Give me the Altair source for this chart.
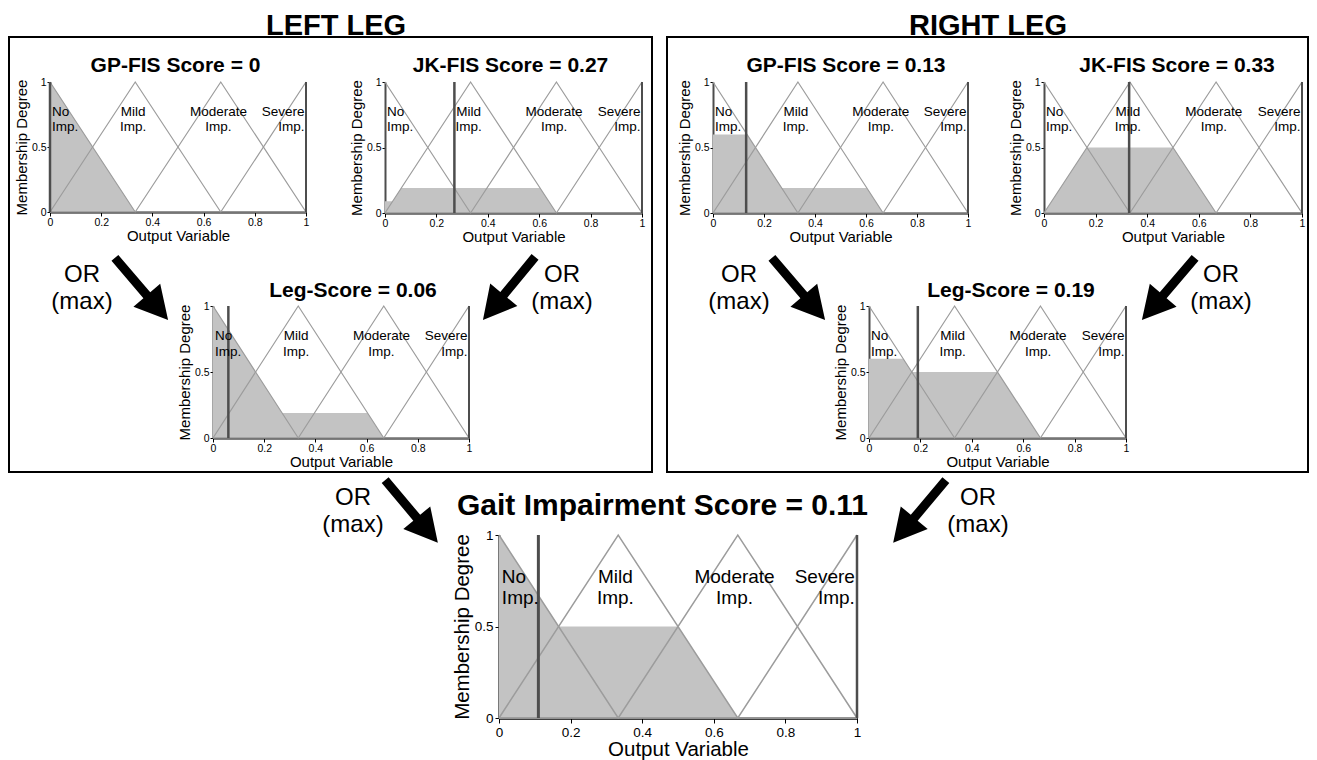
import math
import altair as alt
import pandas as pd

# ------------------------------------------------------------------ data
MF_NAMES = ["No Imp.", "Mild Imp.", "Moderate Imp.", "Severe Imp."]
MF_X = [[0, 0.333, 1], [0, 0.333, 0.667, 1], [0, 0.333, 0.667, 1], [0, 0.667, 1]]
MF_Y = [[1, 0, 0], [0, 1, 0, 0], [0, 0, 1, 0], [0, 0, 1]]
MF_LABELS = ["No\nImp.", "Mild\nImp.", "Moderate\nImp.", "Severe\nImp."]

PANEL_TITLES = ["GP-FIS Score = 0", "JK-FIS Score = 0.27", "Leg-Score = 0.06",
                "GP-FIS Score = 0.13", "JK-FIS Score = 0.33", "Leg-Score = 0.19",
                "Gait Impairment Score = 0.11"]
SCORES = [0, 0.27, 0.06, 0.13, 0.33, 0.19, 0.11]

# vertices of the shaded (aggregated) output region
FILL_X = [
    [0, 0.333],
    [0, 0.03, 0.063, 0.603, 0.667],
    [0, 0.27, 0.603, 0.667],
    [0, 0.133, 0.27, 0.603, 0.667],
    [0, 0.167, 0.5, 0.667],
    [0, 0.133, 0.167, 0.5, 0.667],
    [0, 0.167, 0.5, 0.667],
]
FILL_Y = [
    [1, 0],
    [0.09, 0.09, 0.19, 0.19, 0],
    [1, 0.19, 0.19, 0],
    [0.6, 0.6, 0.19, 0.19, 0],
    [0, 0.5, 0.5, 0],
    [0.6, 0.6, 0.5, 0.5, 0],
    [1, 0.5, 0.5, 0],
]
X_TICKS = [0, 0.2, 0.4, 0.6, 0.8, 1]
Y_TICKS = [0, 0.5, 1]
X_TITLE = "Output Variable"
Y_TITLE = "Membership Degree"
GROUP_TITLES = ["LEFT LEG", "RIGHT LEG"]
OR_TEXT = "OR\n(max)"

# ------------------------------------------------------------------ layout (page pixels)
W, H = 1301, 752
M = 8
PANEL_BOX = [  # x(0), x(1), y(1), y(0)
    (50, 306, 82, 212),
    (385, 642, 82, 213),
    (213, 469, 306, 438),
    (713, 968, 82, 213),
    (1044, 1302, 82, 213),
    (869, 1126, 306, 438),
    (499, 857, 535, 718),
]
TITLE_POS = [(175.5, 72), (510.5, 72), (353, 297), (846, 72), (1177, 72), (1011, 297), (662.5, 515)]
LABEL_X = [0.008, 0.325, 0.658, 0.994]
LABEL_ALIGN = ["left", "center", "center", "right"]
LABEL_Y1 = 0.74

SMALL = dict(title=21, label=13.5, lh=15.2, tickfs=10.5, axfs=15, tick=4, lpad=1,
             dom=2, mfw=1.2, scorew=2.5)
BIG = dict(title=30, label=19, lh=21.4, tickfs=13.5, axfs=20.5, tick=5, lpad=2,
           dom=2.5, mfw=1.5, scorew=3)

FILL = "#c3c3c3"
LINE = "#9c9c9c"
DARK = "#4d4d4d"

BOXES = [(9, 652, 37, 472), (667, 1308, 37, 472)]
GROUP_TITLE_POS = [(336, 34.5), (988, 34.5)]
OR_POS = [(82, 282), (562, 282), (739, 282), (1221, 282), (353, 505), (978, 505)]
ARROWS = [((115, 258), (168, 320)), ((535, 257), (483, 320)),
          ((772, 258), (825, 320)), ((1195, 258), (1142, 320)),
          ((385, 480), (438, 543)), ((946, 480), (893, 543))]
ARROW_PATH = "M0,-1L0.43,-0.2L0.11,-0.2L0.11,1L-0.11,1L-0.11,-0.2L-0.43,-0.2Z"

mf_rows = []
for name, xs_, ys_ in zip(MF_NAMES, MF_X, MF_Y):
    for k, (a, b) in enumerate(zip(xs_, ys_)):
        mf_rows.append({"mf": name, "mx": a, "my": b, "k": k})
mf_df = pd.DataFrame(mf_rows)


def panel(i):
    x0, x1, yt, yb = PANEL_BOX[i]
    s = BIG if i == 6 else SMALL
    xs = alt.Scale(domain=[0, 1], range=[x0 - M, x1 - M], nice=False, zero=False)
    ys = alt.Scale(domain=[0, 1], range=[yb - M, yt - M], nice=False, zero=False)
    xa = alt.Axis(orient="bottom", offset=(yb - M) - H, values=X_TICKS, format="~g",
                  title=X_TITLE, grid=False, labelFlush=False, labelOverlap=False,
                  domainColor="black", domainWidth=s["dom"], tickColor="black", tickWidth=1,
                  tickSize=s["tick"], labelPadding=s["lpad"], labelFontSize=s["tickfs"],
                  labelColor="black", titleColor="black", titleFontSize=s["axfs"],
                  titleFontWeight="normal", titlePadding=1)
    ya = alt.Axis(orient="left", offset=-(x0 - M), values=Y_TICKS, format="~g",
                  title=Y_TITLE, grid=False, labelFlush=False, labelOverlap=False,
                  domainColor=DARK, domainWidth=s["dom"], tickColor="black", tickWidth=1,
                  tickSize=s["tick"] - 1, labelPadding=s["lpad"], labelFontSize=s["tickfs"],
                  labelColor="black", titleColor="black", titleFontSize=s["axfs"],
                  titleFontWeight="normal", titlePadding=1.5)

    def X(f):
        return alt.X(f, scale=xs, axis=xa)

    def Y(f):
        return alt.Y(f, scale=ys, axis=ya)

    fill_df = pd.DataFrame({"fx": FILL_X[i], "fy": FILL_Y[i], "base": [0] * len(FILL_X[i])})
    area = alt.Chart(fill_df).mark_area(color=FILL, opacity=1).encode(
        x=X("fx:Q"), y=Y("fy:Q"), y2="base:Q")
    lines = alt.Chart(mf_df).mark_line(color=LINE, strokeWidth=s["mfw"]).encode(
        x=X("mx:Q"), y=Y("my:Q"), detail="mf:N", order="k:Q")
    score_df = pd.DataFrame({"rx": [SCORES[i]], "r0": [0], "r1": [1]})
    score = alt.Chart(score_df).mark_rule(color=DARK, strokeWidth=s["scorew"]).encode(
        x=X("rx:Q"), y=Y("r0:Q"), y2="r1:Q")
    edge_df = pd.DataFrame({"rx": [1], "r0": [0], "r1": [1]})
    edge = alt.Chart(edge_df).mark_rule(color=DARK, strokeWidth=s["dom"]).encode(
        x=X("rx:Q"), y=Y("r0:Q"), y2="r1:Q")
    lab_df = pd.DataFrame({"lx": LABEL_X, "ly": [LABEL_Y1] * 4,
                           "txt": MF_LABELS, "al": LABEL_ALIGN})
    labs = []
    for al in ["left", "center", "right"]:
        sub = lab_df[lab_df["al"] == al]
        labs.append(alt.Chart(sub).mark_text(align=al, baseline="alphabetic", lineBreak="\n",
                                             lineHeight=s["lh"], fontSize=s["label"],
                                             color="black").encode(
            x=X("lx:Q"), y=Y("ly:Q"), text="txt:N"))
    tx, ty = TITLE_POS[i]
    tdf = pd.DataFrame({"t": [PANEL_TITLES[i]]})
    title = alt.Chart(tdf).mark_text(fontSize=s["title"], fontWeight="bold", align="center",
                                     baseline="alphabetic", color="black").encode(
        x=alt.value(tx - M), y=alt.value(ty - M), text="t:N")
    return alt.layer(area, lines, score, edge, *labs, title)


panels = [panel(i) for i in range(7)]

# ------------------------------------------------------------------ decorations
box_df = pd.DataFrame({"bx": [b[0] - M for b in BOXES], "bx2": [b[1] - M for b in BOXES],
                       "by": [b[2] - M for b in BOXES], "by2": [b[3] - M for b in BOXES]})
boxes = alt.Chart(box_df).mark_rect(filled=False, stroke="black", strokeWidth=2).encode(
    x=alt.X("bx:Q", scale=None, axis=None), x2="bx2:Q",
    y=alt.Y("by:Q", scale=None, axis=None), y2="by2:Q")

gt_df = pd.DataFrame({"gx": [p[0] - M for p in GROUP_TITLE_POS],
                      "gy": [p[1] - M for p in GROUP_TITLE_POS], "t": GROUP_TITLES})
group_titles = alt.Chart(gt_df).mark_text(fontSize=29, fontWeight="bold", align="center",
                                          baseline="alphabetic", color="black").encode(
    x=alt.X("gx:Q", scale=None, axis=None), y=alt.Y("gy:Q", scale=None, axis=None), text="t:N")

or_df = pd.DataFrame({"ox": [p[0] - M for p in OR_POS], "oy": [p[1] - M for p in OR_POS],
                      "t": [OR_TEXT] * len(OR_POS)})
or_text = alt.Chart(or_df).mark_text(fontSize=24, align="center", baseline="alphabetic",
                                     lineBreak="\n", lineHeight=27, color="black").encode(
    x=alt.X("ox:Q", scale=None, axis=None), y=alt.Y("oy:Q", scale=None, axis=None), text="t:N")

arrow_rows = []
for (tail, tip) in ARROWS:
    dx, dy = tip[0] - tail[0], tip[1] - tail[1]
    arrow_rows.append({"ax": (tail[0] + tip[0]) / 2 - M, "ay": (tail[1] + tip[1]) / 2 - M,
                       "ang": math.degrees(math.atan2(dy, dx)) + 90})
arrows = alt.Chart(pd.DataFrame(arrow_rows)).mark_point(
    shape=ARROW_PATH, filled=True, color="black", opacity=1, size=6700, strokeWidth=0).encode(
    x=alt.X("ax:Q", scale=None, axis=None), y=alt.Y("ay:Q", scale=None, axis=None),
    angle=alt.Angle("ang:Q", scale=alt.Scale(domain=[0, 360], range=[0, 360])))

chart = alt.layer(*panels, boxes, group_titles, or_text, arrows).resolve_scale(
    x="independent", y="independent").resolve_axis(x="independent", y="independent").properties(
    width=W, height=H, padding=0, autosize=alt.AutoSizeParams(type="none"), background="white"
).configure(font="Liberation Sans").configure_view(strokeWidth=0)

chart.save("out.html", embed_options={"renderer": "svg", "actions": False})
